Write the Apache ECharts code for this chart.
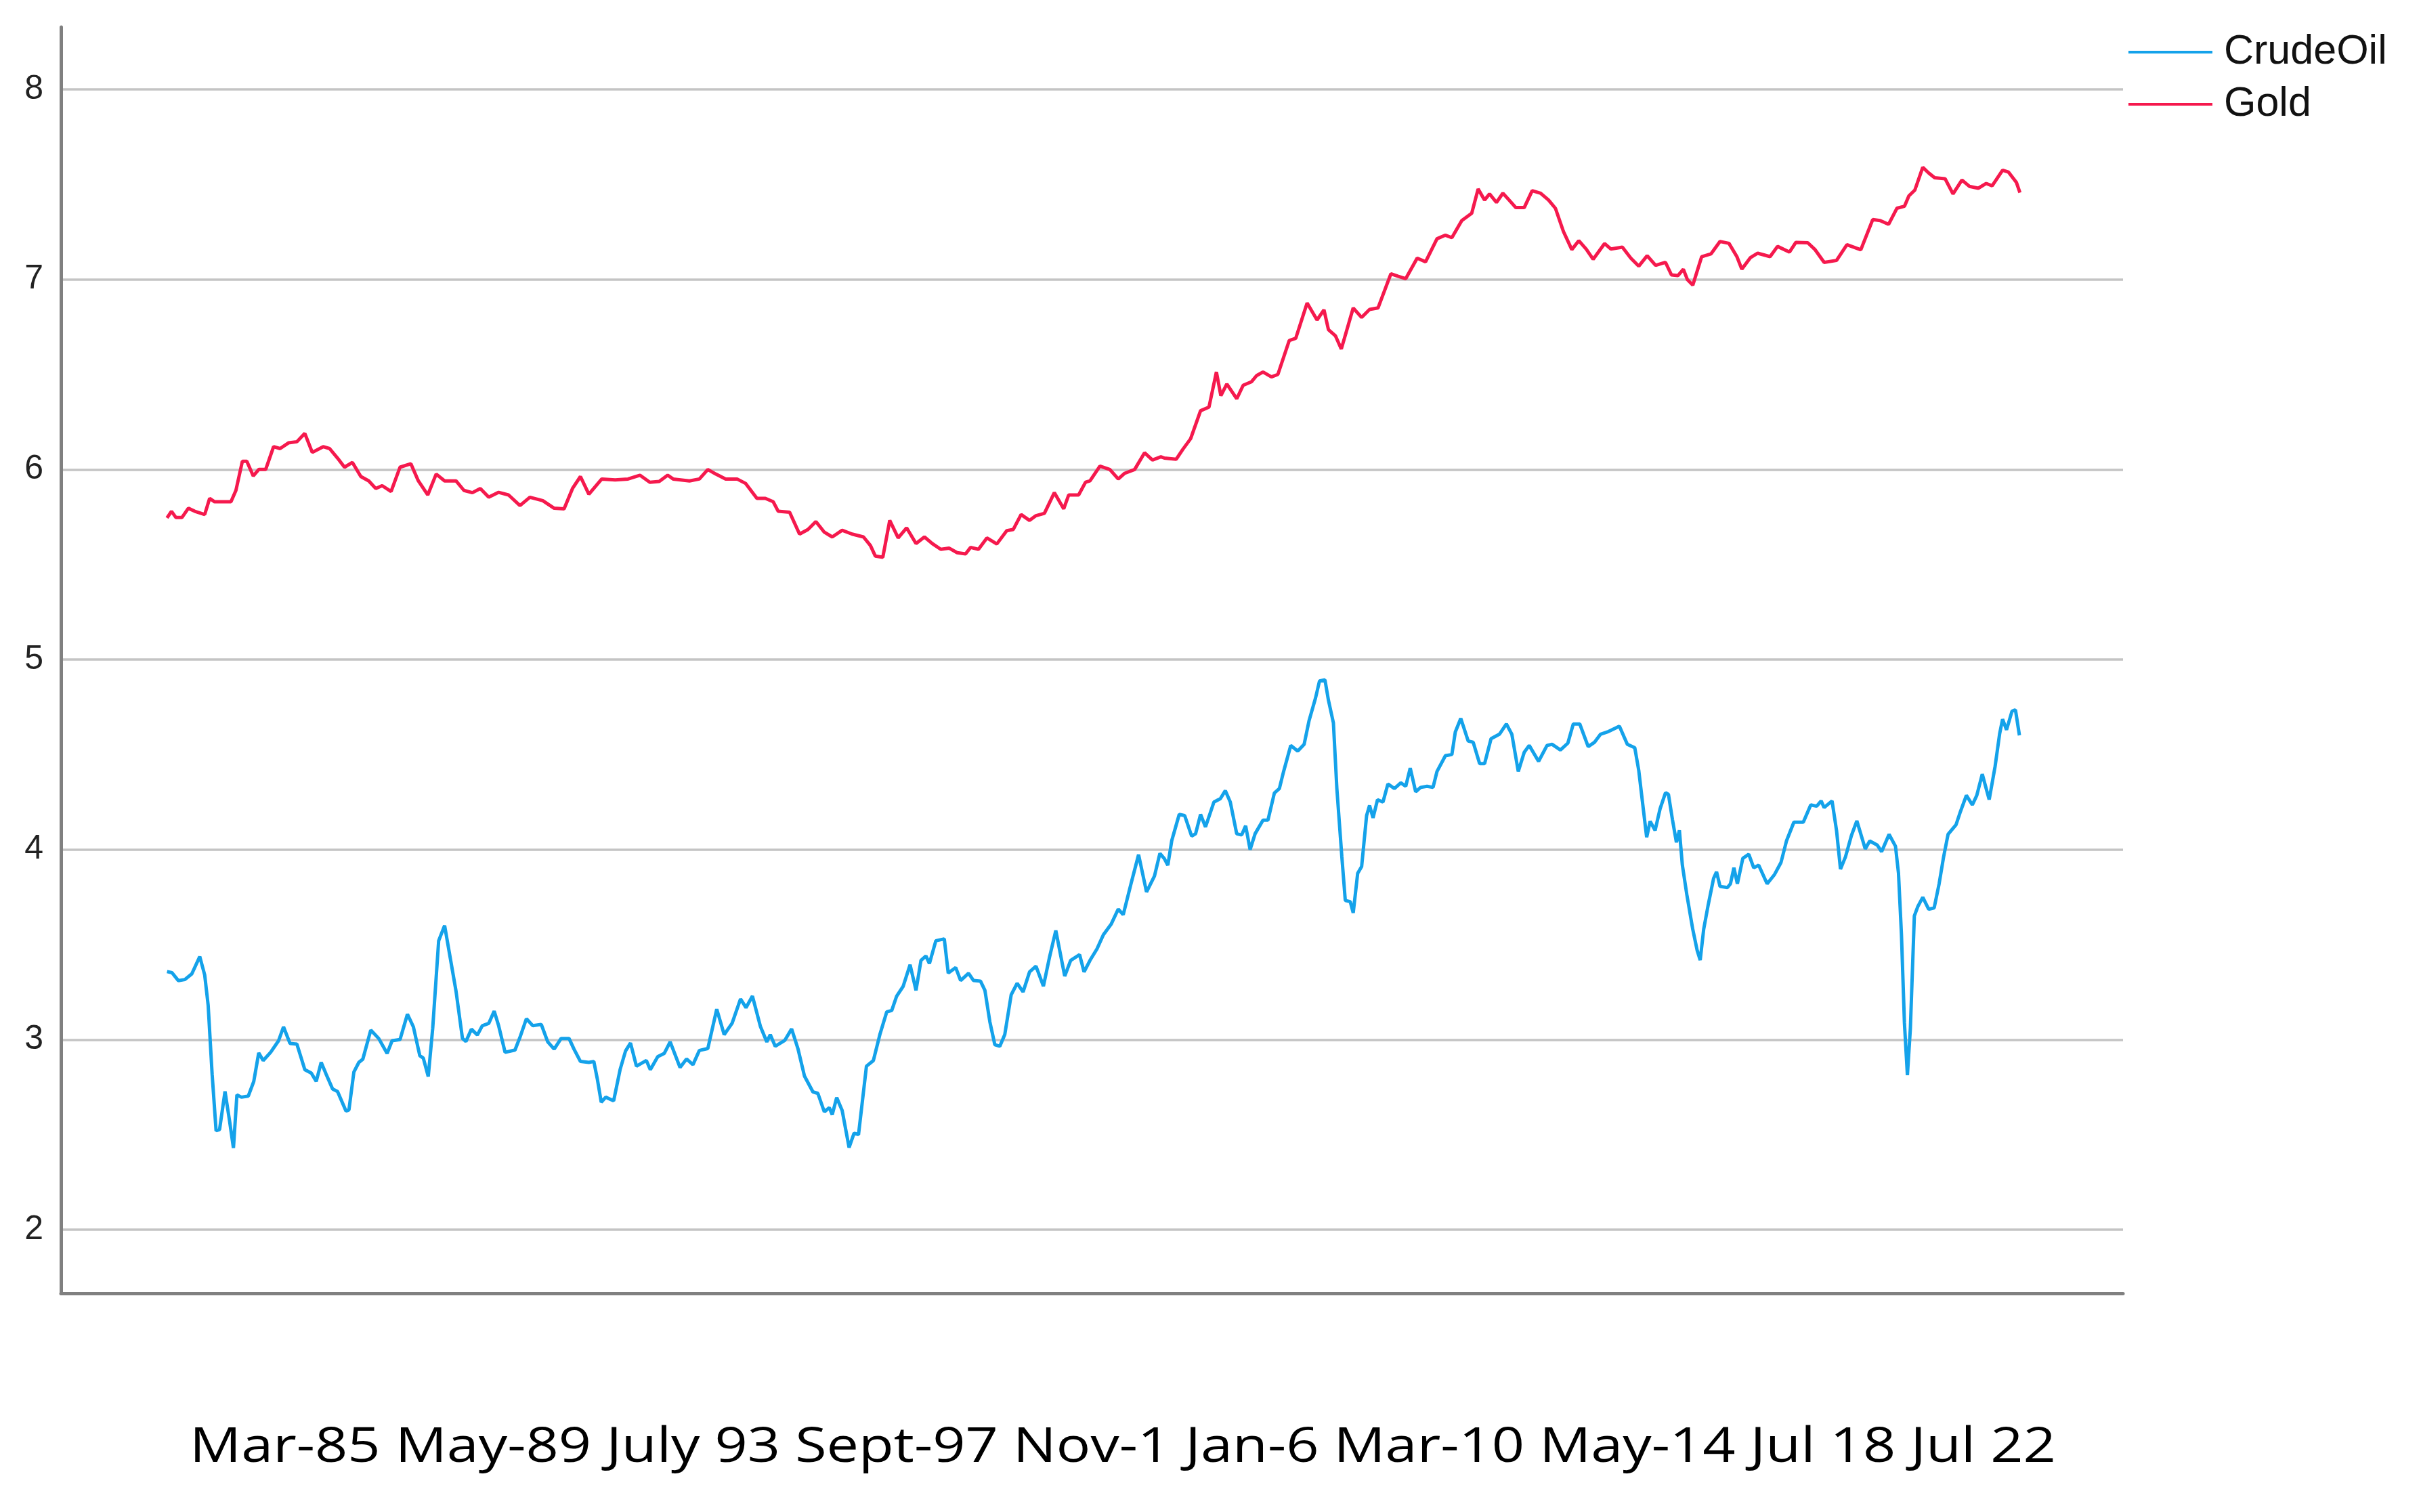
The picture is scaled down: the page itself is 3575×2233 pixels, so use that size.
<!DOCTYPE html>
<html>
<head>
<meta charset="utf-8">
<script src="https://cdn.jsdelivr.net/npm/echarts@6/dist/echarts.min.js"></script>
<style>html,body{margin:0;padding:0;background:#fff;}#chart{width:3575px;height:2233px;}</style>
</head>
<body>
<div id="chart"></div>
<script>
// Series names
var seriesNames = ['CrudeOil', 'Gold'];
// Bottom category caption (tick labels of the original x axis)
var xTickLabels = ['Mar-85', 'May-89', 'July 93', 'Sept-97', 'Nov-1', 'Jan-6', 'Mar-10', 'May-14', 'Jul 18', 'Jul 22'];
// Y axis tick values
var yTicks = [2, 3, 4, 5, 6, 7, 8];

// Gold: dates (decimal years) and values
var goldYears = [1985.18,1985.27,1985.36,1985.48,1985.61,1985.74,1985.94,1986.04,1986.14,1986.47,1986.57,1986.70,1986.79,1986.92,1987.03,1987.17,1987.33,1987.46,1987.63,1987.80,1987.96,1988.11,1988.33,1988.46,1988.62,1988.76,1988.92,1989.09,1989.25,1989.39,1989.52,1989.70,1989.88,1990.10,1990.25,1990.44,1990.61,1990.78,1991.01,1991.17,1991.34,1991.50,1991.67,1991.87,1992.07,1992.30,1992.50,1992.76,1992.99,1993.19,1993.36,1993.52,1993.69,1993.95,1994.22,1994.48,1994.72,1994.92,1995.11,1995.28,1995.39,1995.72,1995.92,1996.09,1996.25,1996.45,1996.68,1996.85,1997.08,1997.25,1997.41,1997.51,1997.74,1997.94,1998.11,1998.27,1998.44,1998.60,1998.80,1999.00,1999.23,1999.37,1999.47,1999.62,1999.76,1999.93,2000.10,2000.29,2000.46,2000.62,2000.79,2000.96,2001.12,2001.29,2001.39,2001.55,2001.72,2001.92,2002.12,2002.25,2002.41,2002.58,2002.71,2002.88,2003.08,2003.27,2003.37,2003.57,2003.71,2003.80,2004.00,2004.20,2004.37,2004.50,2004.70,2004.90,2005.06,2005.23,2005.30,2005.54,2005.67,2005.83,2006.03,2006.20,2006.35,2006.44,2006.56,2006.76,2006.89,2007.06,2007.16,2007.29,2007.46,2007.59,2007.82,2007.95,2008.18,2008.38,2008.52,2008.61,2008.75,2008.87,2009.11,2009.28,2009.44,2009.61,2009.74,2009.87,2010.01,2010.17,2010.40,2010.57,2010.80,2010.97,2011.10,2011.30,2011.50,2011.63,2011.76,2011.86,2012.00,2012.13,2012.26,2012.39,2012.56,2012.72,2012.89,2013.05,2013.19,2013.35,2013.52,2013.66,2013.81,2013.95,2014.18,2014.31,2014.54,2014.71,2014.87,2015.04,2015.21,2015.41,2015.53,2015.66,2015.77,2015.85,2015.96,2016.14,2016.33,2016.51,2016.69,2016.85,2016.95,2017.12,2017.27,2017.52,2017.67,2017.91,2018.04,2018.28,2018.43,2018.61,2018.86,2019.07,2019.35,2019.59,2019.74,2019.91,2020.08,2020.23,2020.32,2020.44,2020.60,2020.72,2020.84,2021.05,2021.21,2021.39,2021.54,2021.72,2021.88,2022.00,2022.21,2022.33,2022.49,2022.56];
var goldValues = [5.745,5.78,5.747,5.747,5.796,5.78,5.763,5.848,5.83,5.83,5.89,6.043,6.043,5.966,6.0,6.0,6.12,6.11,6.14,6.146,6.19,6.09,6.12,6.11,6.06,6.012,6.037,5.963,5.94,5.90,5.915,5.884,6.012,6.03,5.94,5.866,5.976,5.94,5.94,5.89,5.878,5.90,5.854,5.88,5.866,5.81,5.854,5.836,5.796,5.793,5.90,5.963,5.87,5.95,5.945,5.95,5.97,5.933,5.937,5.97,5.95,5.94,5.95,6.0,5.976,5.95,5.95,5.927,5.848,5.848,5.83,5.78,5.775,5.66,5.684,5.726,5.67,5.645,5.68,5.66,5.645,5.60,5.544,5.538,5.732,5.64,5.693,5.61,5.645,5.61,5.58,5.586,5.562,5.556,5.59,5.58,5.64,5.608,5.678,5.684,5.763,5.732,5.757,5.769,5.878,5.793,5.866,5.866,5.933,5.94,6.018,6.0,5.95,5.98,6.0,6.088,6.05,6.067,6.06,6.054,6.105,6.162,6.309,6.328,6.513,6.388,6.45,6.372,6.443,6.462,6.494,6.513,6.487,6.50,6.679,6.69,6.876,6.787,6.84,6.736,6.704,6.634,6.85,6.80,6.842,6.85,6.94,7.03,7.017,7.004,7.112,7.093,7.214,7.233,7.22,7.31,7.348,7.476,7.418,7.45,7.405,7.454,7.416,7.378,7.378,7.467,7.454,7.418,7.374,7.253,7.157,7.204,7.16,7.106,7.189,7.16,7.17,7.112,7.07,7.125,7.074,7.09,7.024,7.02,7.054,7.0,6.97,7.12,7.135,7.20,7.19,7.12,7.054,7.114,7.138,7.12,7.174,7.144,7.195,7.193,7.156,7.09,7.10,7.183,7.156,7.315,7.31,7.29,7.375,7.385,7.44,7.47,7.59,7.56,7.535,7.53,7.45,7.523,7.49,7.48,7.505,7.493,7.575,7.565,7.51,7.457];

// Crude oil: dates (decimal years) and values
var crudeYears = [1985.18,1985.28,1985.41,1985.54,1985.68,1985.84,1985.94,1986.01,1986.09,1986.17,1986.24,1986.35,1986.44,1986.52,1986.59,1986.68,1986.82,1986.93,1987.03,1987.12,1987.27,1987.43,1987.53,1987.66,1987.80,1987.96,1988.09,1988.19,1988.29,1988.39,1988.52,1988.62,1988.79,1988.85,1988.95,1989.05,1989.13,1989.29,1989.45,1989.62,1989.72,1989.88,1990.03,1990.15,1990.28,1990.35,1990.45,1990.54,1990.66,1990.78,1990.88,1991.01,1991.14,1991.21,1991.32,1991.44,1991.54,1991.67,1991.78,1991.87,1992.00,1992.20,1992.30,1992.43,1992.56,1992.73,1992.86,1992.99,1993.13,1993.29,1993.39,1993.52,1993.69,1993.79,1993.86,1993.94,1994.03,1994.19,1994.32,1994.43,1994.53,1994.65,1994.85,1994.93,1995.08,1995.21,1995.33,1995.53,1995.66,1995.79,1995.92,1996.09,1996.27,1996.42,1996.58,1996.75,1996.86,1996.99,1997.15,1997.28,1997.35,1997.45,1997.64,1997.78,1997.91,1998.04,1998.21,1998.31,1998.44,1998.54,1998.60,1998.69,1998.80,1998.94,1999.04,1999.13,1999.29,1999.43,1999.56,1999.70,1999.80,1999.90,2000.03,2000.17,2000.29,2000.39,2000.49,2000.56,2000.69,2000.86,2000.94,2001.09,2001.19,2001.35,2001.45,2001.59,2001.68,2001.78,2001.88,2001.98,2002.08,2002.21,2002.33,2002.45,2002.58,2002.71,2002.86,2002.98,2003.11,2003.29,2003.41,2003.59,2003.68,2003.80,2003.94,2004.07,2004.23,2004.37,2004.47,2004.63,2004.78,2004.94,2005.10,2005.21,2005.30,2005.37,2005.45,2005.60,2005.71,2005.85,2005.93,2006.03,2006.13,2006.30,2006.43,2006.53,2006.63,2006.76,2006.86,2006.94,2007.03,2007.13,2007.29,2007.39,2007.52,2007.62,2007.70,2007.85,2007.99,2008.12,2008.22,2008.35,2008.43,2008.54,2008.61,2008.71,2008.78,2008.88,2008.95,2009.05,2009.11,2009.20,2009.28,2009.38,2009.44,2009.51,2009.60,2009.71,2009.81,2009.94,2010.07,2010.17,2010.26,2010.37,2010.47,2010.60,2010.72,2010.80,2010.97,2011.10,2011.17,2011.28,2011.43,2011.53,2011.66,2011.76,2011.89,2012.06,2012.20,2012.31,2012.44,2012.56,2012.66,2012.85,2013.02,2013.12,2013.29,2013.44,2013.55,2013.68,2013.85,2013.98,2014.10,2014.24,2014.48,2014.64,2014.79,2014.87,2014.94,2015.03,2015.10,2015.20,2015.30,2015.41,2015.47,2015.55,2015.63,2015.69,2015.75,2015.84,2015.96,2016.05,2016.11,2016.18,2016.27,2016.38,2016.44,2016.51,2016.66,2016.72,2016.79,2016.86,2016.97,2017.09,2017.19,2017.29,2017.46,2017.61,2017.74,2017.85,2018.00,2018.19,2018.34,2018.46,2018.55,2018.61,2018.77,2018.86,2018.94,2019.04,2019.16,2019.27,2019.44,2019.53,2019.68,2019.77,2019.92,2020.05,2020.11,2020.17,2020.23,2020.29,2020.35,2020.43,2020.50,2020.60,2020.72,2020.83,2020.93,2021.02,2021.11,2021.27,2021.36,2021.48,2021.60,2021.69,2021.80,2021.94,2022.06,2022.15,2022.21,2022.29,2022.40,2022.47,2022.55];
var crudeValues = [3.358,3.352,3.31,3.316,3.346,3.437,3.34,3.18,2.818,2.52,2.527,2.727,2.575,2.43,2.709,2.697,2.703,2.78,2.93,2.89,2.933,2.994,3.067,2.98,2.976,2.842,2.824,2.78,2.88,2.818,2.74,2.727,2.624,2.63,2.83,2.88,2.897,3.05,3.006,2.927,2.994,3.0,3.134,3.067,2.915,2.903,2.806,3.06,3.52,3.60,3.45,3.255,3.006,2.99,3.055,3.024,3.073,3.085,3.15,3.073,2.933,2.945,3.012,3.11,3.073,3.08,2.988,2.95,3.006,3.006,2.95,2.885,2.88,2.885,2.794,2.67,2.697,2.678,2.842,2.94,2.982,2.86,2.89,2.842,2.91,2.927,2.988,2.853,2.898,2.868,2.943,2.953,3.16,3.026,3.086,3.214,3.168,3.229,3.07,2.988,3.026,2.965,2.995,3.056,2.95,2.808,2.725,2.717,2.62,2.642,2.605,2.695,2.627,2.432,2.507,2.50,2.86,2.89,3.026,3.146,3.153,3.229,3.28,3.394,3.259,3.417,3.44,3.40,3.52,3.53,3.35,3.379,3.311,3.349,3.311,3.308,3.259,3.093,2.973,2.965,3.026,3.236,3.296,3.251,3.356,3.386,3.281,3.43,3.574,3.334,3.417,3.447,3.356,3.417,3.477,3.552,3.609,3.687,3.657,3.823,3.973,3.777,3.86,3.98,3.952,3.917,4.048,4.185,4.179,4.071,4.083,4.185,4.119,4.25,4.268,4.31,4.25,4.083,4.077,4.125,4.0,4.083,4.155,4.155,4.298,4.321,4.405,4.548,4.518,4.554,4.679,4.798,4.887,4.893,4.786,4.667,4.321,3.964,3.732,3.726,3.667,3.875,3.911,4.179,4.232,4.167,4.262,4.25,4.345,4.321,4.351,4.333,4.429,4.304,4.327,4.333,4.327,4.411,4.494,4.50,4.619,4.69,4.571,4.565,4.452,4.452,4.583,4.607,4.661,4.607,4.411,4.512,4.548,4.464,4.548,4.554,4.524,4.56,4.661,4.661,4.542,4.565,4.607,4.619,4.649,4.554,4.536,4.417,4.262,4.065,4.149,4.101,4.214,4.299,4.29,4.158,4.038,4.101,3.918,3.763,3.58,3.468,3.418,3.58,3.707,3.848,3.883,3.806,3.80,3.82,3.904,3.82,3.954,3.975,3.904,3.918,3.82,3.869,3.932,4.045,4.144,4.144,4.235,4.228,4.256,4.221,4.256,4.101,3.897,3.961,4.073,4.151,4.003,4.045,4.024,3.989,4.08,4.017,3.876,3.552,3.087,2.813,3.059,3.651,3.70,3.749,3.686,3.693,3.82,3.961,4.08,4.13,4.20,4.285,4.235,4.285,4.397,4.263,4.439,4.608,4.686,4.63,4.728,4.735,4.601];

function pairs(xs, ys) {
  var out = [];
  for (var i = 0; i < xs.length; i++) out.push([xs[i], ys[i]]);
  return out;
}

var chart = echarts.init(document.getElementById('chart'), null, {renderer: 'canvas'});
var axisColor = '#808080';
var option = {
  animation: false,
  backgroundColor: '#ffffff',
  grid: {left: 90, right: 440, top: 40, bottom: 323, containLabel: false},
  legend: {
    orient: 'vertical',
    left: 3143,
    top: 46,
    padding: 0,
    itemWidth: 124,
    itemHeight: 20,
    itemGap: 15,
    icon: 'path://M0,9 L124,9 L124,13 L0,13 Z',
    textStyle: {fontFamily: 'Liberation Sans', fontSize: 61, color: '#111111', lineHeight: 48, padding: [14, 0, 0, 12]},
    data: seriesNames
  },
  xAxis: {
    type: 'value',
    min: 1983.04,
    max: 2024.64,
    axisLine: {show: true, onZero: false, lineStyle: {color: axisColor, width: 5}},
    axisTick: {show: false},
    axisLabel: {show: false},
    splitLine: {show: false}
  },
  yAxis: {
    type: 'value',
    min: 1.665,
    max: 8.328,
    axisLine: {show: true, onZero: false, lineStyle: {color: axisColor, width: 5}},
    axisTick: {show: false, customValues: yTicks},
    axisLabel: {show: true, customValues: yTicks, fontFamily: 'Liberation Sans', fontSize: 50, color: '#222222', margin: 26},
    splitLine: {show: true, lineStyle: {color: '#c4c4c4', width: 3.5}}
  },
  graphic: [{
    type: 'text',
    x: 1658,
    y: 2138,
    scaleX: 1.175,
    style: {
      text: xTickLabels.join(' '),
      font: '72px "Open Sans"',
      fill: '#000000',
      textAlign: 'center',
      textVerticalAlign: 'middle'
    }
  }],
  series: [
    {
      name: seriesNames[0],
      type: 'line',
      data: pairs(crudeYears, crudeValues),
      symbol: 'none',
      showSymbol: false,
      color: '#14a2ea',
      lineStyle: {color: '#14a2ea', width: 5},
      z: 3
    },
    {
      name: seriesNames[1],
      type: 'line',
      data: pairs(goldYears, goldValues),
      symbol: 'none',
      showSymbol: false,
      color: '#f5194d',
      lineStyle: {color: '#f5194d', width: 5},
      z: 3
    }
  ]
};
chart.setOption(option);
</script>
</body>
</html>
